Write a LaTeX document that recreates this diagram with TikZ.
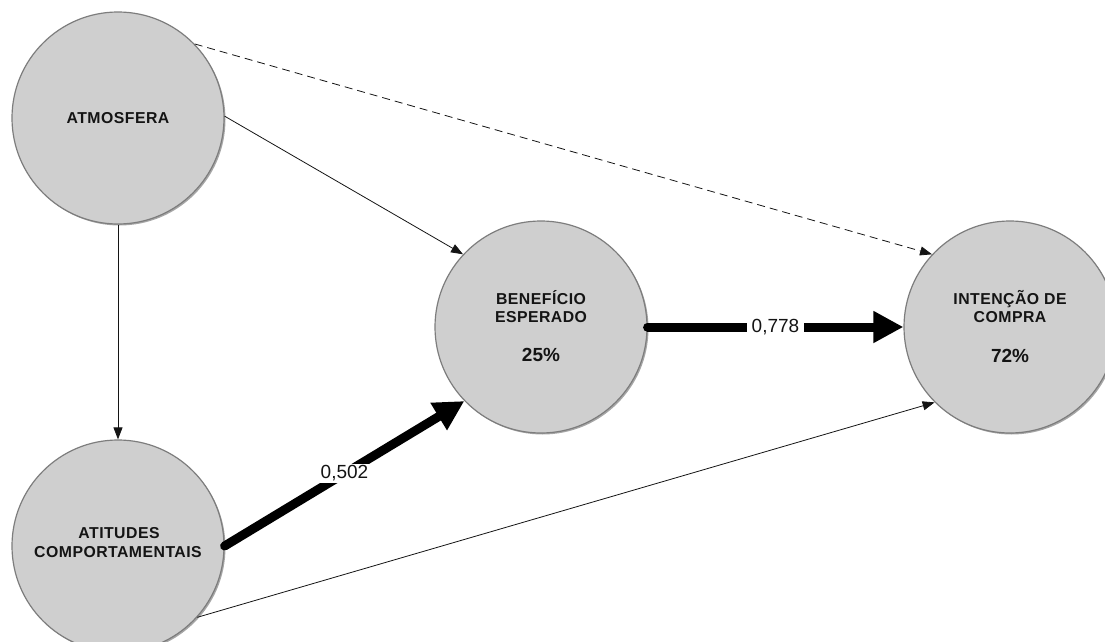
\documentclass[tikz,border=0pt]{standalone}
\usepackage{fontspec}
\setmainfont{Liberation Sans}
\newfontfamily\namefont[LetterSpace=3]{Liberation Sans}
\usetikzlibrary{arrows.meta,shadows}
\definecolor{nodefill}{RGB}{207,207,207}
\definecolor{nodeedge}{RGB}{125,125,125}
\definecolor{ink}{RGB}{20,20,20}
\begin{document}
\begin{tikzpicture}[x=1pt,y=-1pt,
  construct/.style={circle, fill=nodefill, draw=nodeedge, line width=1.2pt,
    minimum size=212pt, inner sep=0pt,
    drop shadow={shadow xshift=1.5pt, shadow yshift=-1.5pt, opacity=0.35, fill=black}},
  nametext/.style={anchor=base, inner sep=0pt, text=ink,
    font=\namefont\fontsize{15.8}{18}\selectfont\bfseries},
  pcttext/.style={anchor=base, inner sep=0pt, text=ink,
    font=\fontsize{19}{22}\selectfont\bfseries},
  thinpath/.style={draw=ink, line width=0.8pt, -{Triangle[length=12pt,width=9pt]}},
  dashpath/.style={thinpath, dash pattern=on 8pt off 5pt},
  heavypath/.style={draw=black, line width=9pt, line cap=round,
    -{Triangle[length=30pt,width=30pt]}},
  weight/.style={fill=white, inner xsep=5pt, inner ysep=1.5pt, text=ink,
    font=\fontsize{19}{22}\selectfont}]
  \useasboundingbox (0,0) rectangle (1105,642);

  % constructs
  \node[construct] (atm) at (118,118) {};
  \node[construct] (att) at (118,546) {};
  \node[construct] (ben) at (541,327) {};
  \node[construct] (int) at (1010,327) {};

  % construct names and explained variance
  \node[nametext] (atmA) at (118,123) {ATMOSFERA};
  \node[nametext] (attA) at (119,538) {ATITUDES};
  \node[nametext] (attB) at (118,557) {COMPORTAMENTAIS};
  \node[nametext] (benA) at (541,304) {BENEFÍCIO};
  \node[nametext] (benB) at (541,322) {ESPERADO};
  \node[pcttext]  (benR) at (541,361) {25\%};
  \node[nametext] (intA) at (1010,304) {INTENÇÃO DE};
  \node[nametext] (intB) at (1010,322) {COMPRA};
  \node[pcttext]  (intR) at (1010,362) {72\%};

  % paths
  \draw[dashpath] (atm.44) -- (int.137);
  \draw[thinpath] (atm.1) -- (ben.137);
  \draw[thinpath] (atm.270) -- (att.90);
  \draw[thinpath] (att.318) -- (int.225);
  \draw[heavypath] (att.0) -- (ben.224)
    node[weight, inner xsep=1.5pt, pos=0.5] (w1) {0,502};
  \draw[heavypath] (ben.0) -- (int.180)
    node[weight, pos=0.5] (w2) {0,778};
\end{tikzpicture}
\end{document}
